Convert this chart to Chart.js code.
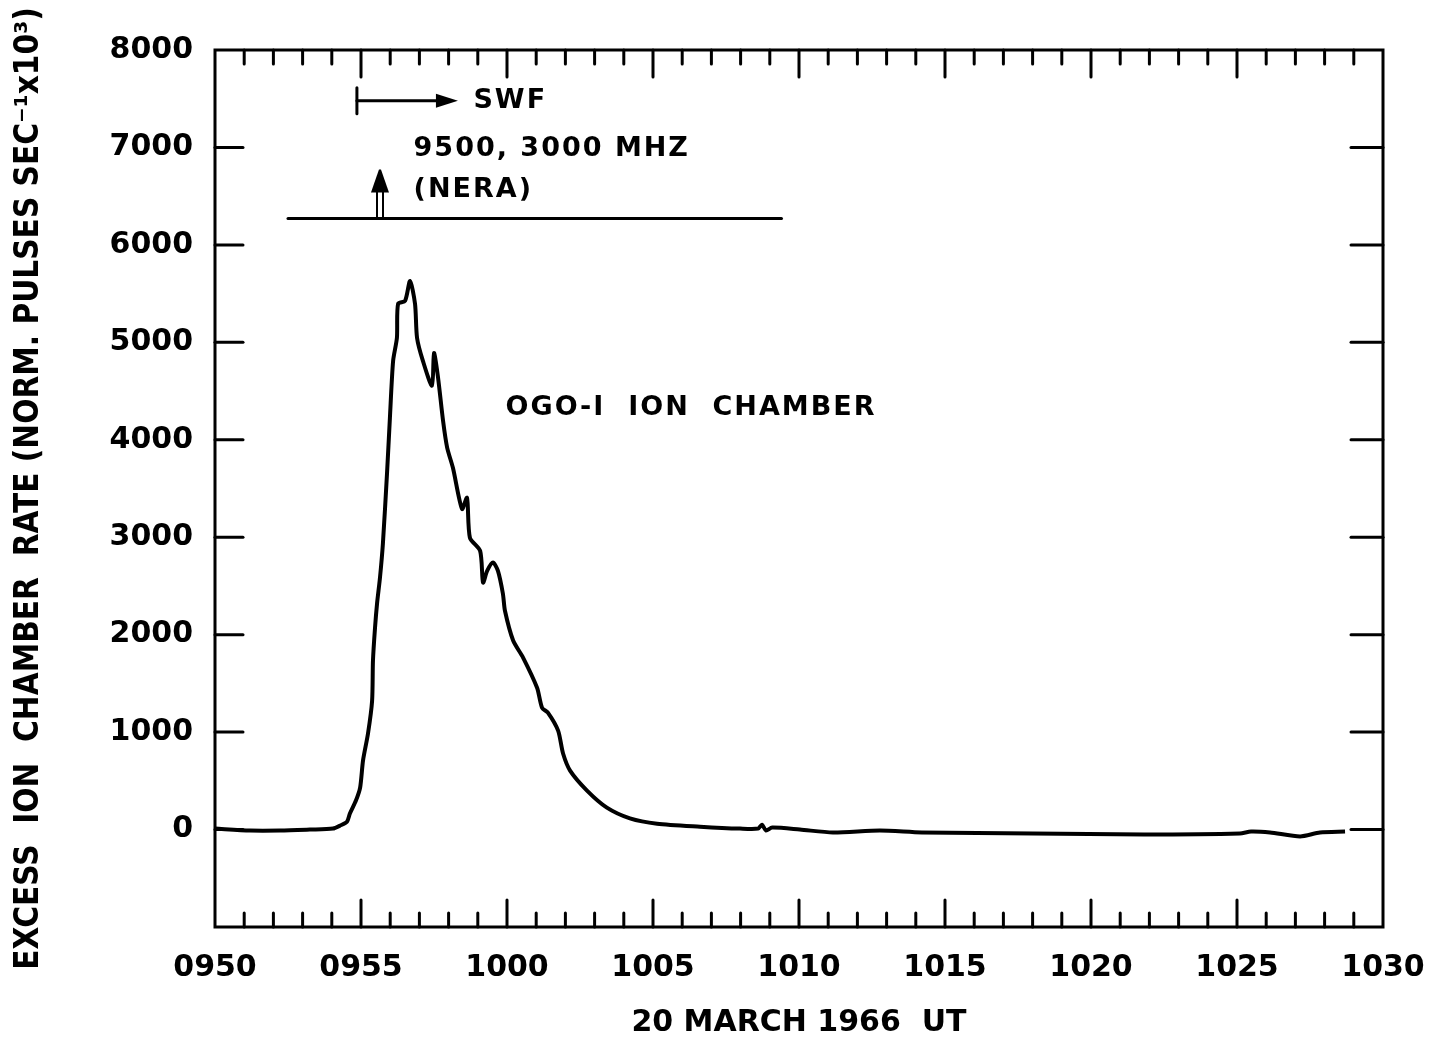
<!DOCTYPE html>
<html><head><meta charset="utf-8">
<script src="https://cdn.jsdelivr.net/npm/chart.js@4.4.0/dist/chart.umd.min.js"></script>
<style>html,body{margin:0;padding:0;background:#fff;}</style>
</head><body>
<canvas id="c" width="1435" height="1043" style="width:1435px;height:1043px;display:block"></canvas>
<script>
// minutes after 0950 UT, 20 March 1966
const timeMinutes = [0,1.2,2.23,3.25,4.04,4.28,4.52,4.62,4.83,4.97,5.07,5.24,5.38,5.41,5.48,5.55,5.65,5.75,5.89,5.99,6.10,6.23,6.27,6.51,6.68,6.85,6.92,7.12,7.43,7.50,7.64,7.81,7.95,8.15,8.46,8.63,8.73,9.08,9.18,9.32,9.52,9.69,9.86,9.93,10.21,10.55,11.03,11.20,11.40,11.75,11.92,12.16,12.74,13.42,14.21,15.14,16.61,17.98,18.60,18.73,18.87,19.08,20.03,21.16,22.77,24.21,28.01,31.82,35.10,35.48,36.13,37.16,37.84,38.70];
// excess ion chamber rate (norm. pulses sec^-1 x10^3)
const ionRate = [10,-10,-10,0,10,40,80,165,300,430,710,985,1320,1735,2070,2320,2585,2935,3650,4225,4810,5045,5395,5425,5630,5395,5045,4810,4555,4890,4635,4195,3920,3710,3290,3405,2995,2860,2535,2655,2740,2655,2420,2245,1940,1765,1455,1250,1200,1015,780,605,400,225,115,60,30,10,10,50,-10,20,0,-30,-10,-30,-40,-50,-40,-20,-30,-70,-30,-20];
const xTickLabels = ["0950","0955","1000","1005","1010","1015","1020","1025","1030"];
const yTickLabels = ["","0","1000","2000","3000","4000","5000","6000","7000","8000"];

// annotations (data units)
const swfMarker = {start: 4.86, end: 8.32, level: 7480};
const neraBaseline = {start: 2.5, end: 19.4, level: 6270};
const neraBurstTime = 5.65;
const textNotes = [
  {text: "SWF", t: 8.85, v: 7480},
  {text: "9500, 3000 MHZ", t: 6.8, v: 6985},
  {text: "(NERA)", t: 6.8, v: 6565},
  {text: "OGO-I  ION  CHAMBER", t: 9.95, v: 4330}
];

const FONT = "'DejaVu Sans', sans-serif";

const framePlugin = {
  id: 'frame',
  afterDatasetsDraw(chart) {
    const {ctx, chartArea: {left, right, top, bottom}, scales: {x, y}} = chart;
    ctx.save();
    ctx.strokeStyle = '#000';
    ctx.fillStyle = '#000';
    ctx.lineWidth = 3;
    ctx.lineCap = 'square';
    const line = (a, b, c, d) => { ctx.beginPath(); ctx.moveTo(a, b); ctx.lineTo(c, d); ctx.stroke(); };
    ctx.strokeRect(left, top, right - left, bottom - top);
    ctx.lineCap = 'round';
    for (let m = 1; m < 40; m++) {
      const px = x.getPixelForValue(m);
      const len = m % 5 === 0 ? 27 : 14;
      line(px, bottom, px, bottom - len);
      line(px, top, px, top + len);
    }
    for (let v = 0; v < 8000; v += 1000) {
      const py = y.getPixelForValue(v);
      line(left, py, left + 28, py);
      line(right, py, right - 32, py);
    }
    // NERA baseline
    ctx.lineWidth = 3;
    const by = y.getPixelForValue(neraBaseline.level);
    line(x.getPixelForValue(neraBaseline.start), by, x.getPixelForValue(neraBaseline.end), by);
    // SWF marker
    const sx0 = x.getPixelForValue(swfMarker.start), sx1 = x.getPixelForValue(swfMarker.end);
    const sy = y.getPixelForValue(swfMarker.level);
    line(sx0, sy - 13, sx0, sy + 13);
    line(sx0, sy, sx1 - 18, sy);
    ctx.beginPath(); ctx.moveTo(sx1, sy); ctx.lineTo(sx1 - 22, sy - 7); ctx.lineTo(sx1 - 22, sy + 7); ctx.closePath(); ctx.fill();
    // NERA burst arrow (hollow shaft)
    const ax = x.getPixelForValue(neraBurstTime);
    ctx.lineWidth = 2;
    ctx.lineCap = 'butt';
    line(ax - 3, by, ax - 3, by - 28);
    line(ax + 3, by, ax + 3, by - 28);
    ctx.beginPath(); ctx.moveTo(ax - 1, by - 49); ctx.lineTo(ax + 1, by - 49); ctx.lineTo(ax + 9, by - 26); ctx.lineTo(ax - 9, by - 26); ctx.closePath(); ctx.fill();
    // text
    ctx.font = "bold 27px " + FONT;
    ctx.textBaseline = 'middle';
    ctx.textAlign = 'left';
    try { ctx.letterSpacing = '2px'; } catch (e) {}
    for (const n of textNotes) {
      ctx.fillText(n.text, x.getPixelForValue(n.t), y.getPixelForValue(n.v));
    }
    ctx.restore();
  }
};

const spacingPlugin = {
  id: 'spacing',
  beforeDraw(chart) { try { chart.ctx.letterSpacing = '0px'; } catch (e) {} }
};

new Chart(document.getElementById('c'), {
  type: 'line',
  data: {
    datasets: [{
      data: timeMinutes.map((t, i) => ({x: t, y: ionRate[i]})),
      borderColor: '#000',
      borderWidth: 4,
      pointRadius: 0,
      tension: 0.25,
      fill: false
    }]
  },
  options: {
    responsive: false,
    devicePixelRatio: 1,
    animation: false,
    layout: {padding: {left: 0, right: 52, top: 50, bottom: 0}},
    plugins: {legend: {display: false}, tooltip: {enabled: false}},
    scales: {
      x: {
        type: 'linear', min: 0, max: 40,
        grid: {display: false, drawTicks: false},
        border: {display: false},
        ticks: {
          stepSize: 5, padding: 23, color: '#000', maxRotation: 0,
          font: {family: FONT, size: 30, weight: 'bold'},
          callback: (v) => xTickLabels[Math.round(v / 5)]
        },
        title: {display: true, text: '20 MARCH 1966  UT', color: '#000', padding: {bottom: 2},
          font: {family: FONT, size: 30, weight: 'bold'}},
        afterFit: (s) => { s.height = 116; s.paddingLeft = 0; s.paddingRight = 0; }
      },
      y: {
        min: -1000, max: 8000,
        grid: {display: false, drawTicks: false},
        border: {display: false},
        ticks: {
          stepSize: 1000, padding: 22, color: '#000',
          font: {family: FONT, size: 30, weight: 'bold'},
          callback: (v) => yTickLabels[Math.round(v / 1000) + 1]
        },
        title: {display: true, text: 'EXCESS  ION  CHAMBER  RATE (NORM. PULSES SEC⁻¹x10³)', color: '#000', padding: {top: 10},
          font: {family: "'DejaVu Sans Condensed', 'DejaVu Sans', sans-serif", size: 33, weight: 'bold'}},
        afterFit: (s) => { s.width = 215; }
      }
    }
  },
  plugins: [spacingPlugin, framePlugin]
});
</script>
</body></html>
